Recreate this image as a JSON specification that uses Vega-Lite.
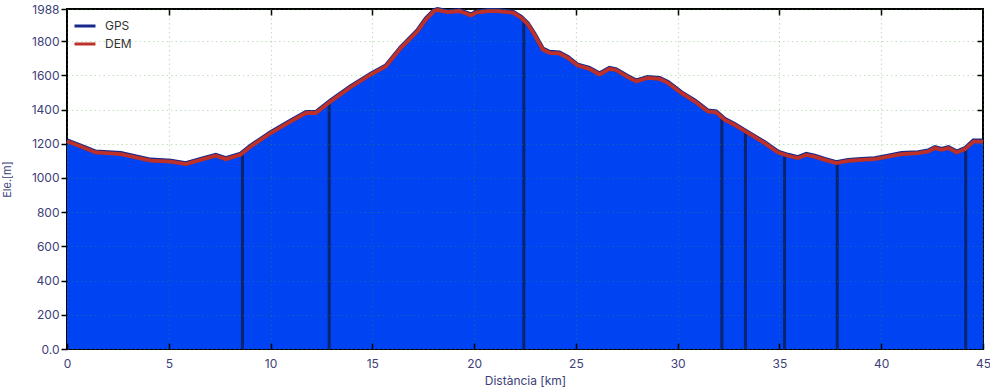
{
  "$schema": "https://vega.github.io/schema/vega-lite/v6.json",
  "width": 916,
  "height": 340,
  "autosize": "none",
  "padding": {"left": 67, "top": 9, "right": 7, "bottom": 43},
  "background": "white",
  "config": {
    "font": "Inter",
    "view": {"stroke": "black", "strokeWidth": 2},
    "axis": {"labelFont": "Inter", "titleFont": "Inter", "labelColor": "#3c4178", "titleColor": "#3c4178", "labelFontSize": 12, "titleFontSize": 12, "titleFontWeight": "normal", "tickColor": "black", "domain": false}
  },
  "datasets": {
    "profile": [
      {"km": 0, "gps": 1219, "dem": 1215},
      {"km": 0.67, "gps": 1188, "dem": 1184},
      {"km": 1.41, "gps": 1153, "dem": 1149},
      {"km": 2.64, "gps": 1144, "dem": 1140},
      {"km": 4.11, "gps": 1106, "dem": 1102},
      {"km": 5.1, "gps": 1100, "dem": 1096},
      {"km": 5.84, "gps": 1085, "dem": 1081},
      {"km": 6.57, "gps": 1110, "dem": 1106},
      {"km": 7.31, "gps": 1134, "dem": 1130},
      {"km": 7.8, "gps": 1114, "dem": 1110},
      {"km": 8.54, "gps": 1141, "dem": 1137},
      {"km": 9.03, "gps": 1188, "dem": 1184},
      {"km": 10.01, "gps": 1267, "dem": 1263},
      {"km": 11.0, "gps": 1335, "dem": 1331},
      {"km": 11.74, "gps": 1384, "dem": 1380},
      {"km": 12.23, "gps": 1384, "dem": 1380},
      {"km": 12.96, "gps": 1452, "dem": 1448},
      {"km": 13.95, "gps": 1536, "dem": 1532},
      {"km": 14.93, "gps": 1609, "dem": 1605},
      {"km": 15.67, "gps": 1657, "dem": 1653},
      {"km": 16.41, "gps": 1765, "dem": 1761},
      {"km": 17.23, "gps": 1863, "dem": 1859},
      {"km": 17.63, "gps": 1931, "dem": 1927},
      {"km": 18.04, "gps": 1980, "dem": 1976},
      {"km": 18.21, "gps": 1986, "dem": 1982},
      {"km": 18.7, "gps": 1974, "dem": 1970},
      {"km": 19.27, "gps": 1980, "dem": 1976},
      {"km": 19.85, "gps": 1955, "dem": 1951},
      {"km": 20.1, "gps": 1971, "dem": 1967},
      {"km": 20.67, "gps": 1980, "dem": 1976},
      {"km": 21.16, "gps": 1980, "dem": 1976},
      {"km": 21.9, "gps": 1971, "dem": 1967},
      {"km": 22.31, "gps": 1941, "dem": 1937},
      {"km": 22.63, "gps": 1904, "dem": 1900},
      {"km": 22.96, "gps": 1843, "dem": 1839},
      {"km": 23.37, "gps": 1755, "dem": 1751},
      {"km": 23.7, "gps": 1736, "dem": 1732},
      {"km": 24.19, "gps": 1732, "dem": 1728},
      {"km": 24.6, "gps": 1707, "dem": 1703},
      {"km": 25.09, "gps": 1661, "dem": 1657},
      {"km": 25.66, "gps": 1642, "dem": 1638},
      {"km": 26.16, "gps": 1609, "dem": 1605},
      {"km": 26.65, "gps": 1642, "dem": 1638},
      {"km": 26.98, "gps": 1634, "dem": 1630},
      {"km": 27.47, "gps": 1599, "dem": 1595},
      {"km": 27.96, "gps": 1569, "dem": 1565},
      {"km": 28.53, "gps": 1589, "dem": 1585},
      {"km": 29.11, "gps": 1583, "dem": 1579},
      {"km": 29.52, "gps": 1560, "dem": 1556},
      {"km": 30.17, "gps": 1501, "dem": 1497},
      {"km": 30.83, "gps": 1452, "dem": 1448},
      {"km": 31.15, "gps": 1423, "dem": 1419},
      {"km": 31.48, "gps": 1393, "dem": 1389},
      {"km": 31.89, "gps": 1388, "dem": 1384},
      {"km": 32.3, "gps": 1345, "dem": 1341},
      {"km": 32.79, "gps": 1315, "dem": 1311},
      {"km": 33.45, "gps": 1267, "dem": 1263},
      {"km": 34.27, "gps": 1208, "dem": 1204},
      {"km": 34.93, "gps": 1153, "dem": 1149},
      {"km": 35.42, "gps": 1134, "dem": 1130},
      {"km": 35.91, "gps": 1120, "dem": 1116},
      {"km": 36.32, "gps": 1139, "dem": 1135},
      {"km": 36.73, "gps": 1129, "dem": 1125},
      {"km": 37.22, "gps": 1110, "dem": 1106},
      {"km": 37.79, "gps": 1091, "dem": 1087},
      {"km": 38.37, "gps": 1104, "dem": 1100},
      {"km": 39.02, "gps": 1110, "dem": 1106},
      {"km": 39.68, "gps": 1114, "dem": 1110},
      {"km": 40.34, "gps": 1129, "dem": 1125},
      {"km": 41.0, "gps": 1144, "dem": 1140},
      {"km": 41.82, "gps": 1149, "dem": 1145},
      {"km": 42.31, "gps": 1159, "dem": 1155},
      {"km": 42.64, "gps": 1179, "dem": 1175},
      {"km": 42.97, "gps": 1169, "dem": 1165},
      {"km": 43.3, "gps": 1179, "dem": 1175},
      {"km": 43.71, "gps": 1153, "dem": 1149},
      {"km": 44.12, "gps": 1173, "dem": 1169},
      {"km": 44.53, "gps": 1217, "dem": 1213},
      {"km": 45.0, "gps": 1217, "dem": 1213}
    ],
    "wpts": [
      {"km": 8.62, "ele": 1140},
      {"km": 12.88, "ele": 1440},
      {"km": 22.44, "ele": 1920},
      {"km": 32.17, "ele": 1350},
      {"km": 33.33, "ele": 1272},
      {"km": 35.25, "ele": 1128},
      {"km": 37.84, "ele": 1085},
      {"km": 44.15, "ele": 1172}
    ]
  },
  "layer": [
    {
      "data": {"name": "profile"},
      "mark": {"type": "area", "color": "#0043F3", "opacity": 1},
      "encoding": {
        "x": {"field": "km", "type": "quantitative", "scale": {"domain": [0, 45], "nice": false, "zero": false},
          "axis": {"orient": "bottom", "title": "Distància [km]", "values": [0, 5, 10, 15, 20, 25, 30, 35, 40, 45], "tickSize": -6, "tickWidth": 1.5, "labelPadding": 15, "titlePadding": 6, "labelFlush": false, "grid": true, "gridColor": "#3f9a35", "gridOpacity": 0.3, "gridDash": [1.5, 3], "gridWidth": 1.2, "zindex": 1}},
        "y": {"field": "dem", "type": "quantitative", "scale": {"domain": [0, 1988], "nice": false},
          "axis": {"orient": "left", "title": "Ele.[m]", "values": [0, 200, 400, 600, 800, 1000, 1200, 1400, 1600, 1800, 1988], "labelExpr": "datum.value == 0 ? '0.0' : datum.value", "tickSize": 6, "tickWidth": 1.5, "labelPadding": 2, "titleX": -55, "titleFontSize": 11, "labelFlush": false, "grid": true, "gridColor": "#3f9a35", "gridOpacity": 0.3, "gridDash": [1.5, 3], "gridWidth": 1.2, "zindex": 1}}
      }
    },
    {
      "data": {"name": "wpts"},
      "mark": {"type": "rule", "color": "#0B2470", "strokeWidth": 3},
      "encoding": {
        "x": {"field": "km", "type": "quantitative", "axis": {"orient": "top", "title": null, "labels": false, "values": [5, 10, 15, 20, 25, 30, 35, 40], "tickSize": -6, "tickWidth": 1.5, "grid": false}},
        "y": {"field": "ele", "type": "quantitative", "axis": {"orient": "right", "title": null, "labels": false, "values": [200, 400, 600, 800, 1000, 1200, 1400, 1600, 1800], "tickSize": -6, "tickWidth": 1.5, "grid": false}},
        "y2": {"datum": 0}
      }
    },
    {
      "data": {"name": "profile"},
      "mark": {"type": "line", "strokeWidth": 4.5},
      "encoding": {
        "x": {"field": "km", "type": "quantitative", "axis": null},
        "y": {"field": "gps", "type": "quantitative", "axis": null},
        "color": {"datum": "GPS", "type": "nominal", "scale": {"domain": ["GPS", "DEM"], "range": ["#17288A", "#BE302A"]},
          "legend": {"orient": "none", "legendX": 6, "legendY": 5, "title": null, "symbolType": "stroke", "symbolSize": 440, "symbolStrokeWidth": 3, "labelFont": "Inter", "labelFontSize": 12, "labelColor": "#333333", "rowPadding": 0, "labelOffset": 8, "symbolOffset": 0}}
      }
    },
    {
      "data": {"name": "profile"},
      "mark": {"type": "line", "strokeWidth": 3.8},
      "encoding": {
        "x": {"field": "km", "type": "quantitative", "axis": null},
        "y": {"field": "dem", "type": "quantitative", "axis": null},
        "color": {"datum": "DEM", "type": "nominal"}
      }
    }
  ],
  "resolve": {"axis": {"x": "independent", "y": "independent"}}
}
